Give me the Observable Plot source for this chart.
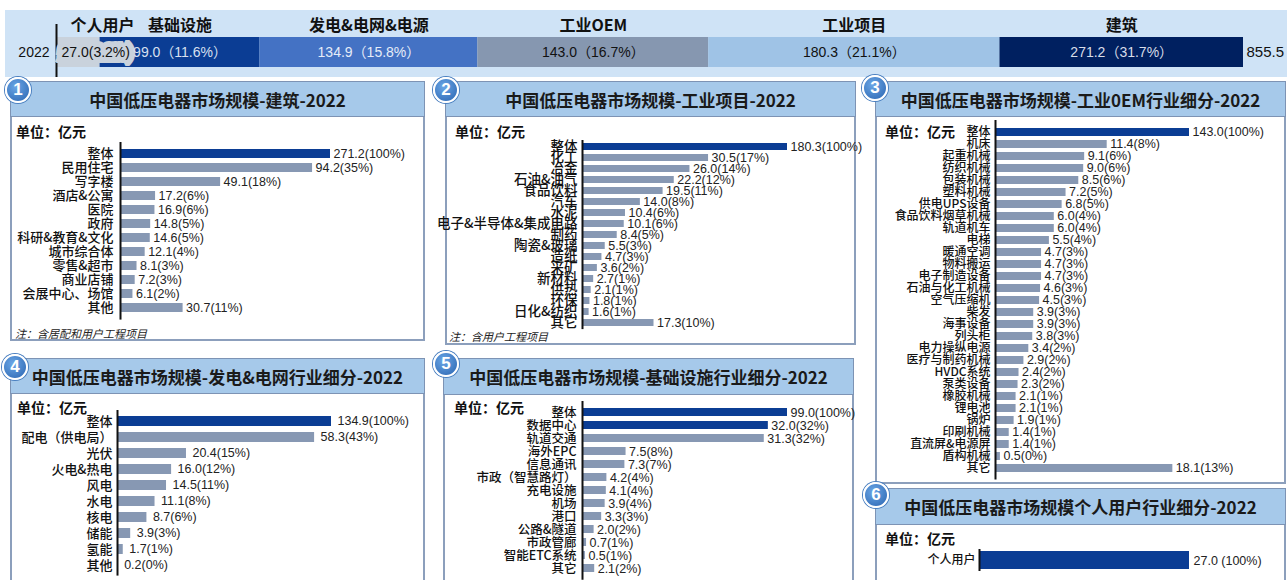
<!DOCTYPE html>
<html><head><meta charset="utf-8">
<script src="https://cdn.jsdelivr.net/npm/d3@7"></script>
<script src="https://cdn.jsdelivr.net/npm/@observablehq/plot@0.6"></script>
<style>
body{margin:0;width:1287px;height:580px;overflow:hidden;background:#fff;font-family:"Noto Sans CJK SC",sans-serif;position:relative}
.abs{position:absolute}
.hdr{position:absolute;background:#a6c9ea;border:1.5px solid #7d93b4;box-sizing:border-box;display:flex;align-items:center;justify-content:center;font-weight:700;font-size:17px;color:#1a1a1a;white-space:nowrap}
.box{position:absolute;background:#fff;border:2px solid #8c9fbc;box-sizing:border-box}
.unit{position:absolute;font-weight:700;font-size:14px;color:#111;white-space:nowrap}
.note{position:absolute;font-style:italic;font-size:11px;color:#222;white-space:nowrap}
.badge{position:absolute;width:22px;height:22px;border-radius:50%;background:radial-gradient(circle at 40% 35%,#6aa6e6,#2a64b0);border:2px solid #fff;box-shadow:0 0 0 1px #4a7fc0;color:#fff;font-weight:700;font-size:17px;line-height:22px;text-align:center;font-family:"Liberation Sans",sans-serif}
svg{overflow:visible}
</style></head>
<body>
<div id="root"></div>
<script>
// ---------- data ----------
const topCats = ["个人用户","基础设施","发电&电网&电源","工业OEM","工业项目","建筑"];
const topVals = [27.0, 99.0, 134.9, 143.0, 180.3, 271.2];
const topPcts = [3.2, 11.6, 15.8, 16.7, 21.1, 31.7];
const topTotal = 855.5;
const topYear = "2022";

const p1Cats = ["整体","民用住宅","写字楼","酒店&公寓","医院","政府","科研&教育&文化","城市综合体","零售&超市","商业店铺","会展中心、场馆","其他"];
const p1Vals = [271.2,94.2,49.1,17.2,16.9,14.8,14.6,12.1,8.1,7.2,6.1,30.7];
const p1Pcts = [100,35,18,6,6,5,5,4,3,3,2,11];

const p2Cats = ["整体","化工","冶金","石油&油气","食品饮料","汽车","水泥","电子&半导体&集成电路","制药","陶瓷&玻璃","造纸","采矿","新材料","供热","环保","日化&纺织","其它"];
const p2Vals = [180.3,30.5,26.0,22.2,19.5,14.0,10.4,10.1,8.4,5.5,4.7,3.6,2.7,2.1,1.8,1.6,17.3];
const p2Pcts = [100,17,14,12,11,8,6,6,5,3,3,2,1,1,1,1,10];

const p3Cats = ["整体","机床","起重机械","纺织机械","包装机械","塑料机械","供电UPS设备","食品饮料烟草机械","轨道机车","电梯","暖通空调","物料搬运","电子制造设备","石油与化工机械","空气压缩机","柴发","海事设备","列头柜","电力操纵电源","医疗与制药机械","HVDC系统","泵类设备","橡胶机械","锂电池","锅炉","印刷机械","直流屏&电源屏","盾构机械","其它"];
const p3Vals = [143.0,11.4,9.1,9.0,8.5,7.2,6.8,6.0,6.0,5.5,4.7,4.7,4.7,4.6,4.5,3.9,3.9,3.8,3.4,2.9,2.4,2.3,2.1,2.1,1.9,1.4,1.4,0.5,18.1];
const p3Pcts = [100,8,6,6,6,5,5,4,4,4,3,3,3,3,3,3,3,3,2,2,2,2,1,1,1,1,1,0,13];

const p4Cats = ["整体","配电（供电局）","光伏","火电&热电","风电","水电","核电","储能","氢能","其他"];
const p4Vals = [134.9,58.3,20.4,16.0,14.5,11.1,8.7,3.9,1.7,0.2];
const p4Pcts = [100,43,15,12,11,8,6,3,1,0];

const p5Cats = ["整体","数据中心","轨道交通","海外EPC","信息通讯","市政（智慧路灯）","充电设施","机场","港口","公路&隧道","市政管廊","智能ETC系统","其它"];
const p5Vals = [99.0,32.0,31.3,7.5,7.3,4.2,4.1,3.9,3.3,2.0,0.7,0.5,2.1];
const p5Pcts = [100,32,32,8,7,4,4,4,3,2,1,1,2];

const p6Cats = ["个人用户"];
const p6Vals = [27.0];
const p6Pcts = [100];

const titles = [
  "中国低压电器市场规模-建筑-2022",
  "中国低压电器市场规模-工业项目-2022",
  "中国低压电器市场规模-工业0EM行业细分-2022",
  "中国低压电器市场规模-发电&电网行业细分-2022",
  "中国低压电器市场规模-基础设施行业细分-2022",
  "中国低压电器市场规模个人用户行业细分-2022"
];
const unitText = "单位：亿元";
const notes = ["注：含居配和用户工程项目", "注：含用户工程项目"];

// ---------- styles ----------
const DARK = "#0b3d94", GRAY = "#8798b3";
const TOP_COLORS = ["#c9d2dc","#0b3d94","#4472c4","#8697b0","#9fc3e6","#002060"];
const TOP_TEXT = ["#111","#d8e0f0","#e6ecf8","#111","#111","#d8dde8"];
const CJK = '"Noto Sans CJK SC", sans-serif';
const LAT = '"Liberation Sans", "Noto Sans CJK SC", sans-serif';
const NAR = '"Liberation Sans Narrow", "Liberation Sans", "Noto Sans CJK SC", sans-serif';

const root = document.getElementById("root");
function div(cls, css, html) {
  const d = document.createElement("div");
  d.className = cls; Object.assign(d.style, css);
  if (html != null) d.textContent = html;
  root.appendChild(d); return d;
}
function place(node, left, top) {
  const w = document.createElement("div");
  w.className = "abs"; w.style.left = left + "px"; w.style.top = top + "px";
  w.appendChild(node); root.appendChild(w);
}

// ---------- top strip ----------
div("abs", {left:"5px", top:"10px", width:"1282px", height:"67px", background:"#cfe3f6"});
const cum = d3.cumsum([0, ...topVals]);
const TOPMAX = 735;
const topData = topCats.map((c,i)=>({c, v: topVals[i], p: topPcts[i], x1: cum[i], x2: cum[i] + topVals[i], year: topYear, i}));
topData.forEach(d => d.mid = (d.x1 + Math.min(d.x2, TOPMAX)) / 2);
const topLabel = d => d.i === 0 ? `${d.v.toFixed(1)}(${d.p}%)` : `${d.v.toFixed(1)}（${d.p}%）`;
const topPlot = Plot.plot({
  width: 1287, height: 68, marginLeft: 56, marginRight: 44, marginTop: 27, marginBottom: 11,
  style: {background: "transparent", color: "#111", fontFamily: LAT, overflow: "visible"},
  x: {domain: [0, TOPMAX], clamp: true, axis: null},
  y: {domain: [topYear], padding: 0, axis: null},
  color: {type: "identity"},
  marks: [
    Plot.barX(topData, {x1: "x1", x2: "x2", y: "year", fill: d => TOP_COLORS[d.i]}),
    Plot.ruleX([0], {stroke: "#111", strokeWidth: 2, insetTop: -13, insetBottom: -10}),
    Plot.axisY({tickSize: 0, tickPadding: 7, fontSize: 14, label: null}),
    Plot.text(topData.slice(0,1), {x: "x1", y: "year", text: topLabel, dx: 5, textAnchor: "start", fontSize: 14, fontFamily: NAR, fill: "#111", stroke: TOP_COLORS[0], strokeWidth: 12, strokeLinejoin: "miter", strokeMiterlimit: 2}),
    Plot.text(topData.slice(1), {x: "mid", y: "year", text: topLabel, fontSize: 14, fontFamily: NAR, fill: d => TOP_TEXT[d.i]}),
    Plot.text(topData.slice(0,1), {x: "x1", y: "year", text: "c", dx: 14, dy: -27, textAnchor: "start", fontSize: 16, fontWeight: 700, fontFamily: CJK}),
    Plot.text(topData.slice(1), {x: "mid", y: "year", text: "c", dy: -27, fontSize: 16, fontWeight: 700, fontFamily: CJK}),
    Plot.text([topTotal], {x: d => d, y: () => topYear, text: d => d.toFixed(1), dx: 3, textAnchor: "start", fontSize: 15, fontFamily: LAT})
  ]
});
place(topPlot, 0, 10);

// ---------- panels ----------
function frame(p) {
  div("box", {left: p.bl+"px", top: p.ht+"px", width: (p.br-p.bl)+"px", height: (p.bb-p.ht)+"px"});
  div("hdr", {left: p.bl+"px", top: p.ht+"px", width: (p.br-p.bl)+"px", height: (p.hb-p.ht)+"px"}, p.title);
  div("badge", {left: (p.cx-13)+"px", top: (p.cy-13)+"px"}, p.num);
  div("unit", {left: p.ux+"px", top: (p.uy-10)+"px"}, unitText);
  if (p.note) div("note", {left: p.nx+"px", top: (p.ny-8)+"px"}, p.note);
}
function chart(cfg) {
  const data = cfg.cats.map((c,i)=>({c, v: cfg.vals[i], p: cfg.pcts[i]}));
  const n = data.length, pad = 6;
  const pi = 1 - cfg.barH / cfg.step;
  const sep = cfg.sep || "";
  const plot = Plot.plot({
    width: cfg.right - cfg.left, height: n*cfg.step + 2*pad,
    marginLeft: cfg.axisX - cfg.left, marginRight: cfg.right - cfg.endX,
    marginTop: pad, marginBottom: pad,
    style: {background: "transparent", color: "#111", fontFamily: CJK, overflow: "visible"},
    x: {domain: [0, cfg.xMax], clamp: true, axis: null},
    y: {domain: cfg.cats, paddingInner: pi, paddingOuter: pi/2, axis: null},
    color: {type: "identity"},
    marks: [
      Plot.barX(data, {x: "v", y: "c", fill: d => cfg.hi.includes(d.c) ? DARK : GRAY}),
      Plot.axisY({tickSize: 0, tickPadding: cfg.tp, fontSize: cfg.fs, fontWeight: 500, label: null}),
      Plot.ruleX([0], {stroke: "#111", strokeWidth: 2}),
      Plot.text(data, {x: "v", y: "c", text: d => `${d.v.toFixed(1)}${sep}(${d.p}%)`, dx: cfg.dx, textAnchor: "start", fontSize: 12.5, fontFamily: LAT, fill: "#222"})
    ]
  });
  place(plot, cfg.left, cfg.c0 - cfg.step/2 - pad);
}

frame({bl:10, br:425, ht:81, hb:117, bb:341, title: titles[0], num:"1", cx:18, cy:90, ux:16, uy:131, note: notes[0], nx:15, ny:333});
frame({bl:445, br:856, ht:81, hb:117, bb:345, title: titles[1], num:"2", cx:446, cy:90, ux:455, uy:131, note: notes[1], nx:449, ny:336});
frame({bl:875, br:1286, ht:81, hb:117, bb:484, title: titles[2], num:"3", cx:875, cy:88, ux:885, uy:131});
frame({bl:10, br:425, ht:358, hb:394, bb:600, title: titles[3], num:"4", cx:15, cy:367, ux:17, uy:407});
frame({bl:443, br:854, ht:358, hb:395, bb:600, title: titles[4], num:"5", cx:446, cy:364, ux:454, uy:407});
frame({bl:875, br:1286, ht:488, hb:525, bb:600, title: titles[5], num:"6", cx:876, cy:495, ux:885, uy:538});

chart({cats:p1Cats, vals:p1Vals, pcts:p1Pcts, hi:["整体"], left:10, right:425, axisX:120, endX:330, xMax:103, c0:149, step:14.8, barH:10, fs:13, tp:7, dx:3});
chart({cats:p2Cats, vals:p2Vals, pcts:p2Pcts, hi:["整体"], left:445, right:856, axisX:582, endX:787, xMax:49.6, c0:146, step:11.125, barH:7, fs:13.5, tp:5, dx:3});
chart({cats:p3Cats, vals:p3Vals, pcts:p3Pcts, hi:["整体"], left:875, right:1286, axisX:995, endX:1189, xMax:19.8, c0:126, step:12.4, barH:8, fs:12, tp:5, dx:3});
chart({cats:p4Cats, vals:p4Vals, pcts:p4Pcts, hi:["整体"], left:10, right:425, axisX:117, endX:331, xMax:63.3, c0:418, step:16.56, barH:10, fs:13, tp:5, dx:6});
chart({cats:p5Cats, vals:p5Vals, pcts:p5Pcts, hi:["整体","数据中心"], left:443, right:854, axisX:582, endX:787, xMax:35.3, c0:408, step:13.75, barH:8.5, fs:12.5, tp:6, dx:3});
chart({cats:p6Cats, vals:p6Vals, pcts:p6Pcts, hi:["个人用户"], left:875, right:1286, axisX:979, endX:1189, xMax:27, c0:560, step:22, barH:18, fs:12, tp:4, dx:4, sep:" "});
</script>
</body></html>
